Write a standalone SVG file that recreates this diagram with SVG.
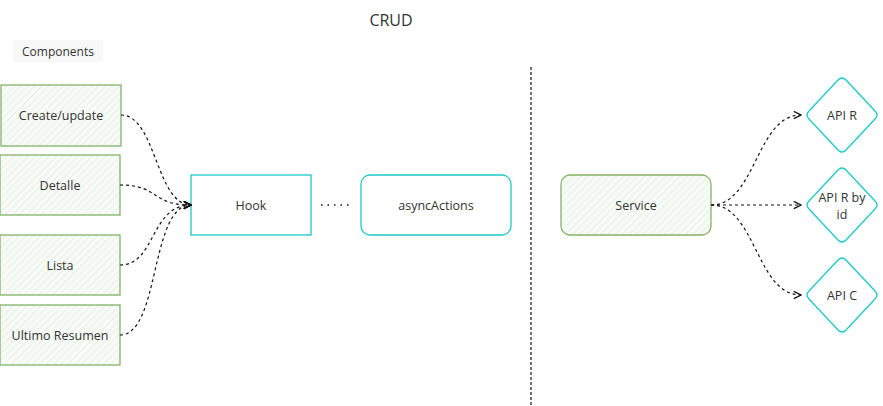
<svg xmlns="http://www.w3.org/2000/svg" width="883" height="406" viewBox="0 0 883 406">
<style>
text{font-family:"Open Sans","Liberation Sans",sans-serif;fill:#333;text-anchor:middle;dominant-baseline:central}
.lbl{font-size:12.5px}
.green{fill:url(#hatch);stroke:#82b366;stroke-width:1.3}
.cyan{fill:#fff;stroke:#1cc9c9;stroke-width:1.3}
.edge{fill:none;stroke:#111;stroke-width:1.2;stroke-dasharray:3 3}
</style>
<defs>
<pattern id="hatch" patternUnits="userSpaceOnUse" width="5" height="5" patternTransform="rotate(45)">
<rect width="5" height="5" fill="#f8fbf7"/>
<line x1="0" y1="0" x2="0" y2="5" stroke="#dcebd8" stroke-width="1.3"/>
</pattern>
<marker id="arr" viewBox="0 0 10 10" refX="9" refY="5" markerWidth="9" markerHeight="9" markerUnits="userSpaceOnUse" orient="auto">
<path d="M1 1 L9 5 L1 9" fill="none" stroke="#111" stroke-width="1.5"/>
</marker>
</defs>
<text x="391" y="20" style="font-size:16px">CRUD</text>
<g id="components-label">
<rect x="13" y="40" width="90" height="22" fill="#f8f8f8"/>
<text x="58" y="51" style="font-size:12px">Components</text>
</g>
<g id="create-update"><rect class="green" x="1" y="85" width="120" height="61"/><text class="lbl" x="61" y="115">Create/update</text></g>
<g id="detalle"><rect class="green" x="0" y="155" width="120" height="60"/><text class="lbl" x="60" y="185">Detalle</text></g>
<g id="lista"><rect class="green" x="0" y="235" width="120" height="60"/><text class="lbl" x="60" y="265">Lista</text></g>
<g id="ultimo-resumen"><rect class="green" x="0" y="305" width="120" height="60"/><text class="lbl" x="60" y="335">Ultimo Resumen</text></g>
<g id="hook"><rect class="cyan" x="191" y="175" width="120" height="60"/><text class="lbl" x="251" y="205">Hook</text></g>
<g id="async-actions"><rect class="cyan" x="361" y="175" width="150" height="60" rx="9"/><text class="lbl" x="436" y="205">asyncActions</text></g>
<g id="service"><rect class="green" x="561" y="175" width="150" height="60" rx="9"/><text class="lbl" x="636" y="205">Service</text></g>
<g id="api-r"><path class="cyan" d="M838 80 Q842 76 846 80 L875 111 Q879 115 875 119 L846 150 Q842 154 838 150 L809 119 Q805 115 809 111 Z"/><text class="lbl" x="842" y="115">API R</text></g>
<g id="api-r-by-id"><path class="cyan" d="M838 170 Q842 166 846 170 L875 201 Q879 205 875 209 L846 240 Q842 244 838 240 L809 209 Q805 205 809 201 Z"/><text class="lbl" x="842" y="197">API R by</text><text class="lbl" x="842" y="214">id</text></g>
<g id="api-c"><path class="cyan" d="M838 260 Q842 256 846 260 L875 291 Q879 295 875 299 L846 330 Q842 334 838 330 L809 299 Q805 295 809 291 Z"/><text class="lbl" x="842" y="295">API C</text></g>
<g id="connectors">
<path class="edge" d="M121 115 C156 115 156 205 191 205" marker-end="url(#arr)"/>
<path class="edge" d="M120 185 C160 185 150 205 191 205" marker-end="url(#arr)"/>
<path class="edge" d="M120 265 C156 265 150 205 191 205" marker-end="url(#arr)"/>
<path class="edge" d="M120 335 C160 335 150 205 191 205" marker-end="url(#arr)"/>
<path fill="none" stroke="#111" stroke-width="1.5" stroke-dasharray="1.5 5" d="M321 205 L350 205"/>
<path fill="none" stroke="#111" stroke-width="1.2" stroke-dasharray="3 2" d="M531 67 L531 406"/>
<path class="edge" d="M711 205 C756 205 756 115 801 115" marker-end="url(#arr)"/>
<path class="edge" d="M711 205 L801 205" marker-end="url(#arr)"/>
<path class="edge" d="M711 205 C756 205 756 295 801 295" marker-end="url(#arr)"/>
</g>
</svg>
